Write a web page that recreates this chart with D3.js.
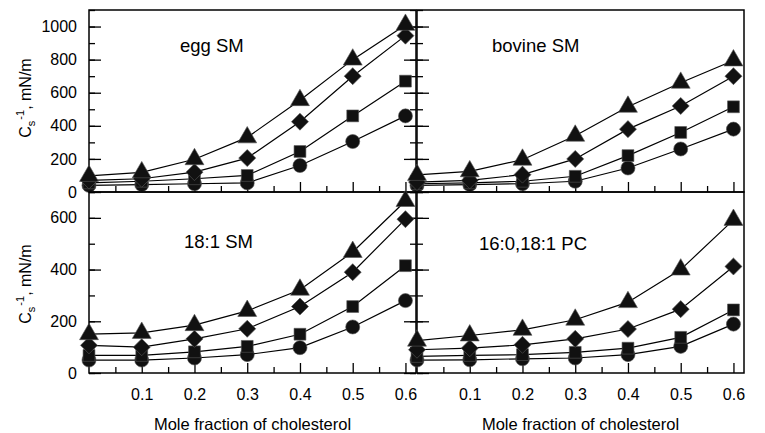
<!DOCTYPE html>
<html><head><meta charset="utf-8">
<script src="https://cdn.jsdelivr.net/npm/d3@7"></script>
<style>
html,body{margin:0;padding:0;background:#fff;}
svg{display:block;font-family:"Liberation Sans",Arial,Helvetica,sans-serif;}
</style></head>
<body><svg id="chart" width="765" height="433"></svg>
<script>
// Data
const xValues = [0, 0.1, 0.2, 0.3, 0.4, 0.5, 0.6];
const seriesNames = ["circle", "square", "diamond", "triangle"];

const eggCircle   = [40, 45, 50, 55, 160, 305, 460];
const eggSquare   = [55, 65, 80, 100, 245, 460, 670];
const eggDiamond  = [70, 80, 120, 205, 425, 700, 945];
const eggTriangle = [97, 119, 198, 330, 555, 800, 1010];

const bovCircle   = [40, 45, 50, 65, 145, 260, 380];
const bovSquare   = [50, 55, 65, 95, 220, 360, 515];
const bovDiamond  = [60, 70, 105, 200, 380, 520, 700];
const bovTriangle = [103, 125, 195, 340, 515, 660, 795];

const s181Circle   = [50, 50, 58, 71, 98, 178, 280];
const s181Square   = [68, 68, 82, 103, 150, 257, 415];
const s181Diamond  = [107, 100, 132, 171, 257, 390, 595];
const s181Triangle = [150, 155, 185, 240, 322, 468, 665];

const pcCircle   = [50, 51, 55, 58, 71, 103, 189];
const pcSquare   = [64, 68, 71, 80, 96, 138, 244];
const pcDiamond  = [90, 96, 109, 132, 170, 247, 412];
const pcTriangle = [125, 145, 167, 206, 274, 400, 592];

const panelLabels = ["egg SM", "bovine SM", "18:1 SM", "16:0,18:1 PC"];
const xTickLabels = ["0.1", "0.2", "0.3", "0.4", "0.5", "0.6"];
const yTicksTop = [0, 200, 400, 600, 800, 1000];
const yTicksBottom = [0, 200, 400, 600];
const xTitle = "Mole fraction of cholesterol";

const svg = d3.select("#chart");

const colX = [[89, 416], [417, 744]];
const rowY = [[10, 192], [192, 373]];
const yDomains = [[0, 1100], [0, 700]];
const yMajor = [yTicksTop, yTicksBottom];
const yMinor = [d3.range(0, 1101, 100), d3.range(0, 701, 100)];

const panels = [
  {row: 0, col: 0, label: panelLabels[0], data: [eggCircle, eggSquare, eggDiamond, eggTriangle], lx: 180, ly: 52},
  {row: 0, col: 1, label: panelLabels[1], data: [bovCircle, bovSquare, bovDiamond, bovTriangle], lx: 492, ly: 52},
  {row: 1, col: 0, label: panelLabels[2], data: [s181Circle, s181Square, s181Diamond, s181Triangle], lx: 184, ly: 248},
  {row: 1, col: 1, label: panelLabels[3], data: [pcCircle, pcSquare, pcDiamond, pcTriangle], lx: 479, ly: 250}
];

const symbols = {
  circle: d3.symbol().type(d3.symbolCircle).size(155),
  square: d3.symbol().type(d3.symbolSquare).size(140),
  diamond: d3.symbol().type(d3.symbolSquare).size(145),
  triangle: d3.symbol().type(d3.symbolTriangle).size(155)
};

const font = "Liberation Sans, Arial, sans-serif";

panels.forEach(p => {
  const [x0, x1] = colX[p.col];
  const [yT, yB] = rowY[p.row];
  const x = d3.scaleLinear().domain([0, 0.62]).range([x0, x1]);
  const y = d3.scaleLinear().domain(yDomains[p.row]).range([yB, yT]);
  const g = svg.append("g");

  // x axis ticks (bottom, inward)
  const xMinorAxis = d3.axisBottom(x).tickValues(d3.range(0.05, 0.61, 0.1)).tickSize(-6).tickFormat("");
  const xMajorAxis = d3.axisBottom(x).tickValues(d3.range(0.1, 0.61, 0.1)).tickSize(-10).tickPadding(16)
      .tickFormat((d, i) => p.row === 1 ? xTickLabels[i] : "");
  [xMinorAxis, xMajorAxis].forEach(ax => {
    const a = g.append("g").attr("transform", `translate(0,${yB})`).call(ax);
    a.select(".domain").remove();
    a.selectAll("line").attr("stroke", "#000").attr("stroke-width", 1.3);
    a.selectAll("text").attr("font-size", 16).attr("font-family", font).attr("fill", "#000");
  });

  // y axis ticks on left edge (inward)
  const yMinorL = d3.axisLeft(y).tickValues(yMinor[p.row]).tickSize(-6).tickFormat("");
  const yMajorL = d3.axisLeft(y).tickValues(yMajor[p.row]).tickSize(-12).tickPadding(12)
      .tickFormat(d => p.col === 0 ? d : "");
  [yMinorL, yMajorL].forEach(ax => {
    const a = g.append("g").attr("transform", `translate(${x0},0)`).call(ax);
    a.select(".domain").remove();
    a.selectAll("line").attr("stroke", "#000").attr("stroke-width", 1.3);
    a.selectAll("text").attr("font-size", 16).attr("font-family", font).attr("fill", "#000");
  });
  // right side ticks for left-column panels
  if (p.col === 0) {
    const yMinorR = d3.axisRight(y).tickValues(yMinor[p.row]).tickSize(-6).tickFormat("");
    const yMajorR = d3.axisRight(y).tickValues(yMajor[p.row]).tickSize(-12).tickFormat("");
    [yMinorR, yMajorR].forEach(ax => {
      const a = g.append("g").attr("transform", `translate(${x1},0)`).call(ax);
      a.select(".domain").remove();
      a.selectAll("line").attr("stroke", "#000").attr("stroke-width", 1.3);
    });
  }

  // frame
  g.append("rect").attr("x", x0).attr("y", yT).attr("width", x1 - x0).attr("height", yB - yT)
    .attr("fill", "none").attr("stroke", "#000").attr("stroke-width", 1.5);

  // lines
  const line = d3.line().x((d, i) => x(xValues[i])).y(d => y(d));
  p.data.forEach(s => {
    g.append("path").datum(s).attr("d", line).attr("fill", "none")
      .attr("stroke", "#000").attr("stroke-width", 1.2);
  });
  // markers
  p.data.forEach((s, si) => {
    const name = seriesNames[si];
    g.selectAll(null).data(s).enter().append("path")
      .attr("d", symbols[name]())
      .attr("transform", (d, i) => `translate(${x(xValues[i])},${y(d)})` + (name === "diamond" ? " rotate(45)" : ""))
      .attr("fill", "#111").attr("stroke", "#555").attr("stroke-width", 0.6);
  });

  // panel label
  g.append("text").attr("x", p.lx).attr("y", p.ly).attr("font-size", 18.5).attr("font-family", font)
    .attr("fill", "#000").text(p.label);
});

// y axis titles
[98, 284].forEach(cy => {
  const t = svg.append("text").attr("transform", `translate(31,${cy}) rotate(-90)`)
    .attr("text-anchor", "middle").attr("font-size", 16).attr("font-family", font).attr("fill", "#000");
  t.append("tspan").text("C");
  t.append("tspan").attr("font-size", 11).attr("dy", 4).text("s");
  t.append("tspan").attr("font-size", 11).attr("dy", -11).attr("dx", 1).text("-1");
  t.append("tspan").attr("dy", 7).text(", mN/m");
});

// x axis titles
[252.5, 580.5].forEach(cx => {
  svg.append("text").attr("x", cx).attr("y", 430).attr("text-anchor", "middle")
    .attr("font-size", 16.5).attr("font-family", font).attr("fill", "#000").text(xTitle);
});
</script>
</body></html>
